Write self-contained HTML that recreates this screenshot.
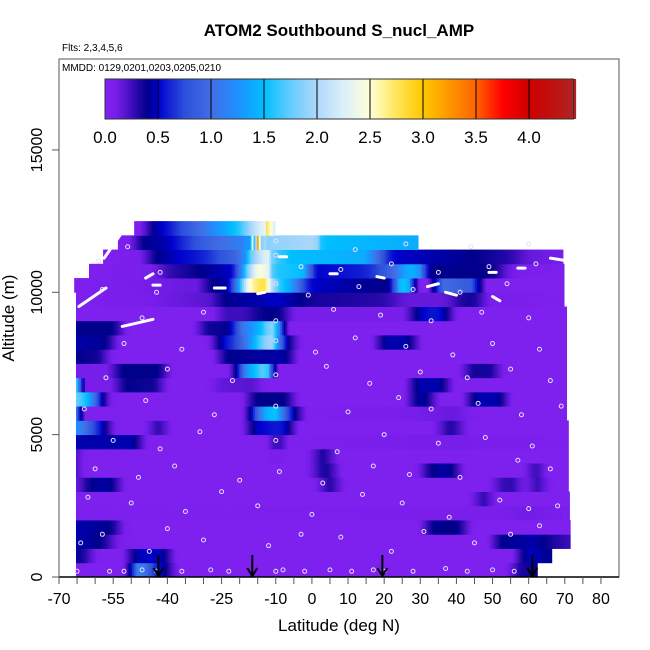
<!DOCTYPE html>
<html><head><meta charset="utf-8">
<style>
html,body{margin:0;padding:0;background:#fff;}
svg{display:block;font-family:"Liberation Sans",sans-serif;}
</style></head>
<body>
<svg id="chart" width="650" height="650" viewBox="0 0 650 650" xmlns="http://www.w3.org/2000/svg">
<text x="339" y="36" text-anchor="middle" font-size="17" font-weight="bold">ATOM2 Southbound S_nucl_AMP</text>
<text x="62" y="51" font-size="10">Flts: 2,3,4,5,6</text>
<g id="heat"></g>
<g id="marks"></g>
<rect x="59" y="59" width="560" height="518" fill="none" stroke="#555" stroke-width="1"/>
<text x="62" y="71" font-size="10">MMDD: 0129,0201,0203,0205,0210</text>
<g id="cbar"></g>
<g id="axes"></g>
<text x="339" y="631" text-anchor="middle" font-size="17">Latitude (deg N)</text>
<text transform="translate(14,318) rotate(-90)" text-anchor="middle" font-size="17">Altitude (m)</text>
</svg>
<script>
// ---- data ----
const altBinSize = 500;
// each row: piecewise breakpoints [lat, value]; row index = altitude bin (0 = 0-500 m)
const rows = [
 [[-65.3,0.05],[-51,0.05],[-50,0.45],[-48,1.3],[-45,0.8],[-42,0.5],[-39,0.3],[-38,0.05],[55,0.05],[56,0.3],[62.4,0.4]],
 [[-65.3,0.4],[-62,0.3],[-60,0.05],[-51,0.05],[-50,0.45],[-44,0.5],[-40,0.45],[-39,0.05],[57,0.05],[58,0.5],[66.4,0.4]],
 [[-65.3,0.45],[-58,0.4],[-54,0.1],[-50,0.05],[50,0.05],[51,0.4],[62,0.45],[68,0.3],[71.5,0.25]],
 [[-65.3,0.45],[-55,0.4],[-52,0.05],[31,0.05],[32,0.4],[42,0.4],[43,0.05],[71.5,0.05]],
 [[-65.3,0.05],[50,0.08],[60,0.12],[71.3,0.08]],
 [[-65.3,0.05],[45,0.05],[46,0.3],[49,0.3],[50,0.05],[71.3,0.05]],
 [[-65.3,0.1],[-63,0.3],[-60,0.45],[-54,0.4],[-53,0.05],[2,0.05],[3,0.3],[7,0.3],[8,0.05],[50,0.05],[51,0.25],[57,0.3],[58,0.05],[60,0.05],[61,0.3],[64,0.25],[65,0.05],[71,0.05]],
 [[-65.3,0.3],[-64,0.05],[0,0.05],[1,0.3],[6,0.35],[7,0.05],[30,0.05],[31,0.3],[35,0.45],[40,0.4],[41,0.05],[60,0.05],[61,0.35],[63,0.3],[64,0.05],[71,0.05]],
 [[-65.3,0.3],[-64,0.05],[-10,0.05],[-9.7,0.4],[-9.3,0.05],[0,0.05],[1,0.3],[5,0.35],[6,0.05],[71,0.05]],
 [[-65.3,0.45],[-48,0.45],[-47,0.05],[-11,0.05],[-10.5,0.4],[-8.5,0.4],[-8,0.05],[30,0.1],[40,0.1],[71,0.05]],
 [[-65.3,1.3],[-61,0.8],[-57,0.4],[-55,0.05],[-45,0.05],[-44,0.3],[-41,0.3],[-40,0.05],[-18,0.05],[-17,0.45],[-9,0.6],[-6,0.45],[-5,0.05],[35,0.05],[36,0.3],[41,0.3],[42,0.05],[71,0.05]],
 [[-65.3,1.5],[-64.5,0.05],[-18,0.05],[-17,0.45],[-13,1.4],[-10,1.6],[-6,0.5],[-3.5,0.4],[-3,0.05],[28,0.1],[40,0.15],[45,0.05],[70.5,0.05]],
 [[-65.3,1.8],[-62,1.5],[-58,0.4],[-56,0.05],[-18,0.05],[-17,0.4],[-6,0.4],[-5,0.05],[27,0.05],[28,0.45],[33,0.4],[34,0.05],[43,0.05],[44,0.45],[53,0.45],[54,0.05],[70.5,0.05]],
 [[-65.3,2.5],[-64.5,0.1],[-54,0.1],[-53,0.4],[-42,0.35],[-41,0.05],[-28,0.05],[-27,0.15],[-15,0.2],[-14,0.05],[27,0.05],[28,0.45],[37,0.45],[38,0.05],[70.5,0.05]],
 [[-65.3,0.1],[-55,0.1],[-54,0.4],[-41,0.4],[-40,0.05],[-22,0.05],[-21,0.4],[-18,1.3],[-12,1.9],[-11,0.05],[42,0.05],[43,0.35],[51,0.35],[52,0.05],[70.5,0.05]],
 [[-65.3,0.4],[-58,0.35],[-56,0.05],[-26,0.05],[-25,0.4],[-6,0.45],[-5,0.05],[70.5,0.05]],
 [[-65.3,0.45],[-56,0.4],[-54,0.05],[-28,0.05],[-26,0.4],[-20,0.8],[-15,1.6],[-11,2.1],[-8,0.5],[-5,0.3],[-4,0.05],[18,0.05],[19,0.45],[28,0.45],[29,0.05],[70.5,0.05]],
 [[-65.3,0.4],[-54,0.4],[-52,0.05],[-32,0.05],[-30,0.35],[-22,0.4],[-20,1.0],[-14,1.5],[-11,2.0],[-9,1.3],[-8,0.05],[70.5,0.05]],
 [[-65.3,0.05],[-27,0.05],[-25,0.25],[-18,0.25],[-14,0.4],[-8,0.4],[-6,0.1],[27,0.1],[28,0.4],[34,0.6],[38,0.4],[39,0.05],[70.5,0.05]],
 [[-65.3,0.05],[-45,0.1],[-27,0.2],[-25,0.4],[-15,0.45],[-10,0.5],[0,0.35],[20,0.3],[26,0.15],[37,0.15],[42,0.35],[46,0.35],[48,0.1],[69.8,0.05]],
 [[-65.8,0.05],[-30,0.15],[-29,0.4],[-22,0.45],[-20,1.5],[-17.5,2.5],[-13,2.9],[-11,2.0],[-9,1.6],[-6,1.4],[-1,0.5],[18,0.4],[23,0.4],[24,1.6],[27,1.6],[28,0.05],[34,0.05],[34.5,1.0],[46,0.8],[46.5,0.05],[69.8,0.05]],
 [[-61.7,0.05],[-43,0.1],[-41,0.25],[-31,0.4],[-21,0.5],[-18,1.8],[-15,2.5],[-12,2.4],[-11,1.6],[-2,1.5],[0,0.5],[15,0.6],[20,0.8],[23,1.0],[26,1.4],[30,1.4],[31,0.4],[50,0.4],[55,0.1],[69.8,0.05]],
 [[-57.8,0.05],[-46,0.1],[-45,0.35],[-40,0.45],[-30,0.6],[-19,1.0],[-17,1.8],[-12,2.4],[-11,1.7],[-6,1.5],[15,1.4],[18,1.0],[22,0.5],[45,0.4],[55,0.3],[60,0.15],[69.5,0.1]],
 [[-53.7,0.05],[-49,0.1],[-48,0.4],[-40,0.45],[-29,0.9],[-17,1.2],[-16.5,3],[-15.5,0.2],[-15,4.0],[-14,1.8],[-11,1.9],[1.5,2.0],[2.5,1.5],[29.4,1.4]],
 [[-49.2,0.05],[-46,0.1],[-45,0.4],[-41,0.5],[-31,1.0],[-20,1.6],[-15,2.2],[-13,2.2],[-12.5,3.0],[-10.2,2.1]]
];
// sample points [lat, altitude]
const sampleLat = [-65,-56,-52,-47,-43,-36,-28,-23,-10,-8,-2,5,11,17,20,28,37,43,50,56,
 -64,-58,-45,-40,-30,-12,-3,8,22,31,45,55,63,-62,-50,-35,-25,-15,0,14,25,38,52,60,68,
 -60,-48,-38,-20,-9,3,17,27,41,57,66,-55,-42,-31,-10,7,20,35,48,61,-63,-46,-27,-10,10,24,33,46,58,69,
 -57,-40,-22,-10,4,16,30,43,55,66,-52,-36,-10,1,12,26,39,50,63,-47,-30,-10,6,19,33,47,60,-58,-43,-10,-1,13,28,41,54,
 -59,-42,-10,-3,8,22,35,49,62,-51,-10,12,26,44,60];
const sampleAlt = [200,200,200,250,200,200,250,200,200,250,200,250,200,250,200,200,300,200,250,200,
 1200,1500,900,1700,1300,1100,1500,1400,900,1600,1200,1500,1800,2800,2600,2300,3000,2500,2200,2900,2600,2100,2700,2400,2500,
 3800,3500,3900,3400,3700,3300,3900,3600,3500,4100,3800,4800,4500,5100,4800,4400,5000,4700,4900,4600,5900,6200,5700,6000,5800,6300,5900,6100,5700,6000,
 7000,7300,6900,7100,7400,6800,7200,7000,7300,6900,8200,8000,8300,7900,8400,8100,7800,8200,8000,9100,9300,9000,9400,9200,9000,9300,9100,10100,10000,10300,9900,10200,10100,10000,10300,
 11100,10700,11300,10900,10800,11000,10700,10900,11000,11600,11800,11500,11700,11600,11700];
// flight track segments [lat0, alt0, lat1, alt1]
const tracks = [[-57.5,11200,-51.5,12300],[-64.5,9500,-57,10150],[-52.5,8800,-44,9050],[-44,10250,-42,10250],[-27,10150,-24,10150],[-15,9950,-13,10000],[5,10650,7,10650],[18,10550,20,10500],[32,10200,35,10300],[50,9850,52,9700],[66,11200,71,11100],[37,10000,40,9900],[49,10700,51,10700],[57,10850,59,10850],[-46,10500,-44,10650],[-9,11250,-7,11250]];
// arrows (latitudes)
const arrowLat = [-42.5,-16.5,19.5,61];
// axis ticks
const xTickLabels = [-70,-55,-40,-25,-10,0,10,20,30,40,50,60,70,80];
const yTickLabels = [0,5000,10000,15000];
const cbTicks = [0.0,0.5,1.0,1.5,2.0,2.5,3.0,3.5,4.0];
const cbMax = 4.42;

// ---- scales ----
const X = lat => 59 + (lat + 70) * 3.613;
const Y = alt => 577 - alt * 0.02847;
const stops = [[0,[132,34,240]],[0.1,[120,30,235]],[0.2,[85,20,205]],[0.3,[40,8,170]],[0.4,[0,0,139]],[0.5,[0,0,205]],[0.75,[45,80,220]],[1.0,[65,110,228]],[1.25,[30,144,255]],[1.5,[0,191,255]],[1.75,[100,205,255]],[2.0,[175,215,250]],[2.25,[220,240,250]],[2.5,[255,255,215]],[2.75,[255,230,90]],[3.0,[255,200,0]],[3.25,[255,150,0]],[3.5,[255,100,0]],[3.75,[255,0,0]],[4.0,[205,0,0]],[4.42,[178,34,34]]];
function col(v){
  if(v<=stops[0][0]) return 'rgb('+stops[0][1]+')';
  for(let i=1;i<stops.length;i++){
    if(v<=stops[i][0]){
      const a=stops[i-1],b=stops[i],t=(v-a[0])/(b[0]-a[0]);
      return 'rgb('+a[1].map((c,k)=>Math.round(c+(b[1][k]-c)*t)).join(',')+')';
    }
  }
  return 'rgb('+stops[stops.length-1][1]+')';
}
function interp(pts,lat){
  for(let i=1;i<pts.length;i++){
    if(lat<=pts[i][0]){const a=pts[i-1],b=pts[i];const t=(lat-a[0])/(b[0]-a[0]||1);return a[1]+(b[1]-a[1])*t;}
  }
  return pts[pts.length-1][1];
}
const NS='http://www.w3.org/2000/svg';
function mk(tag,attrs,parent){const e=document.createElementNS(NS,tag);for(const k in attrs)e.setAttribute(k,attrs[k]);parent.appendChild(e);return e;}

// ---- heatmap ----
const heat=document.getElementById('heat');
const smoothOffsets=[-2,-1.5,-1,-0.5,0,0.5,1,1.5,2];
rows.forEach((pts,r)=>{
  const y0=Y((r+1)*altBinSize), y1=Y(r*altBinSize);
  const l0=pts[0][0], l1=pts[pts.length-1][0];
  const step=0.5;
  for(let lat=l0;lat<l1;lat+=step){
    const le=Math.min(lat+step,l1);
    const m=(lat+le)/2;
    let s=0;
    smoothOffsets.forEach(o=>{s+=interp(pts,Math.max(l0,Math.min(l1,m+o)));});
    const sharp=interp(pts,m);
    const v=sharp>1.0?sharp*0.6+s/smoothOffsets.length*0.4:s/smoothOffsets.length;
    const c=mk('rect',{x:X(lat).toFixed(2),y:y0.toFixed(2),width:(X(le)-X(lat)+0.4).toFixed(2),height:(y1-y0+0.4).toFixed(2),fill:col(v)},heat);
    
    
  }
});

// ---- markers ----
const marks=document.getElementById('marks');
tracks.forEach(t=>{
  const l=mk('line',{x1:X(t[0]),y1:Y(t[1]),x2:X(t[2]),y2:Y(t[3]),stroke:'#fff','stroke-width':3,'stroke-linecap':'round'},marks);
  
  
});
sampleLat.forEach((lat,i)=>{
  const c=mk('circle',{cx:X(lat),cy:Y(sampleAlt[i]),r:2,fill:'none',stroke:'#e8dcff','stroke-width':1},marks);
  
  
});
arrowLat.forEach(lat=>{
  const g=mk('g',{},marks);
  
  
  const x=X(lat);
  mk('line',{x1:x,y1:555,x2:x,y2:576,stroke:'#000','stroke-width':2},g);
  mk('polyline',{points:(x-5)+',568 '+x+',576 '+(x+5)+',568',fill:'none',stroke:'#000','stroke-width':2},g);
});

// ---- axes ----
const axes=document.getElementById('axes');
mk('line',{x1:59,y1:577,x2:619,y2:577,stroke:'#000','stroke-width':1.5},axes);
mk('line',{x1:59,y1:150,x2:59,y2:577,stroke:'#555','stroke-width':1},axes);
for(let lat=-70;lat<=80;lat+=5){
  const t=mk('line',{x1:X(lat),y1:577,x2:X(lat),y2:584,stroke:'#555','stroke-width':1},axes);
  
  
}
xTickLabels.forEach(v=>{
  const t=mk('text',{x:X(v),y:604,'text-anchor':'middle','font-size':16},axes);
  t.textContent=v;
  
  
});
yTickLabels.forEach(v=>{
  mk('line',{x1:52,y1:Y(v),x2:59,y2:Y(v),stroke:'#555','stroke-width':1},axes);
  const t=mk('text',{transform:'translate(42,'+Y(v)+') rotate(-90)','text-anchor':'middle','font-size':16},axes);
  t.textContent=v;
  
  
});

// ---- colorbar ----
const cb=document.getElementById('cbar');
const CX=v=>105+v*106;
for(let v=0;v<cbMax;v+=0.02){
  mk('rect',{x:CX(v),y:79,width:2.6,height:40,fill:col(v+0.01)},cb);
}
cbTicks.forEach(v=>{
  if(v>0) mk('line',{x1:CX(v),y1:79,x2:CX(v),y2:119,stroke:'#000','stroke-width':1},cb);
  const t=mk('text',{x:CX(v),y:143,'text-anchor':'middle','font-size':17},cb);
  t.textContent=v.toFixed(1);
  
  
});
mk('rect',{x:105,y:79,width:CX(cbMax)-105,height:40,fill:'none',stroke:'#333','stroke-width':1},cb);
</script>
</body></html>
